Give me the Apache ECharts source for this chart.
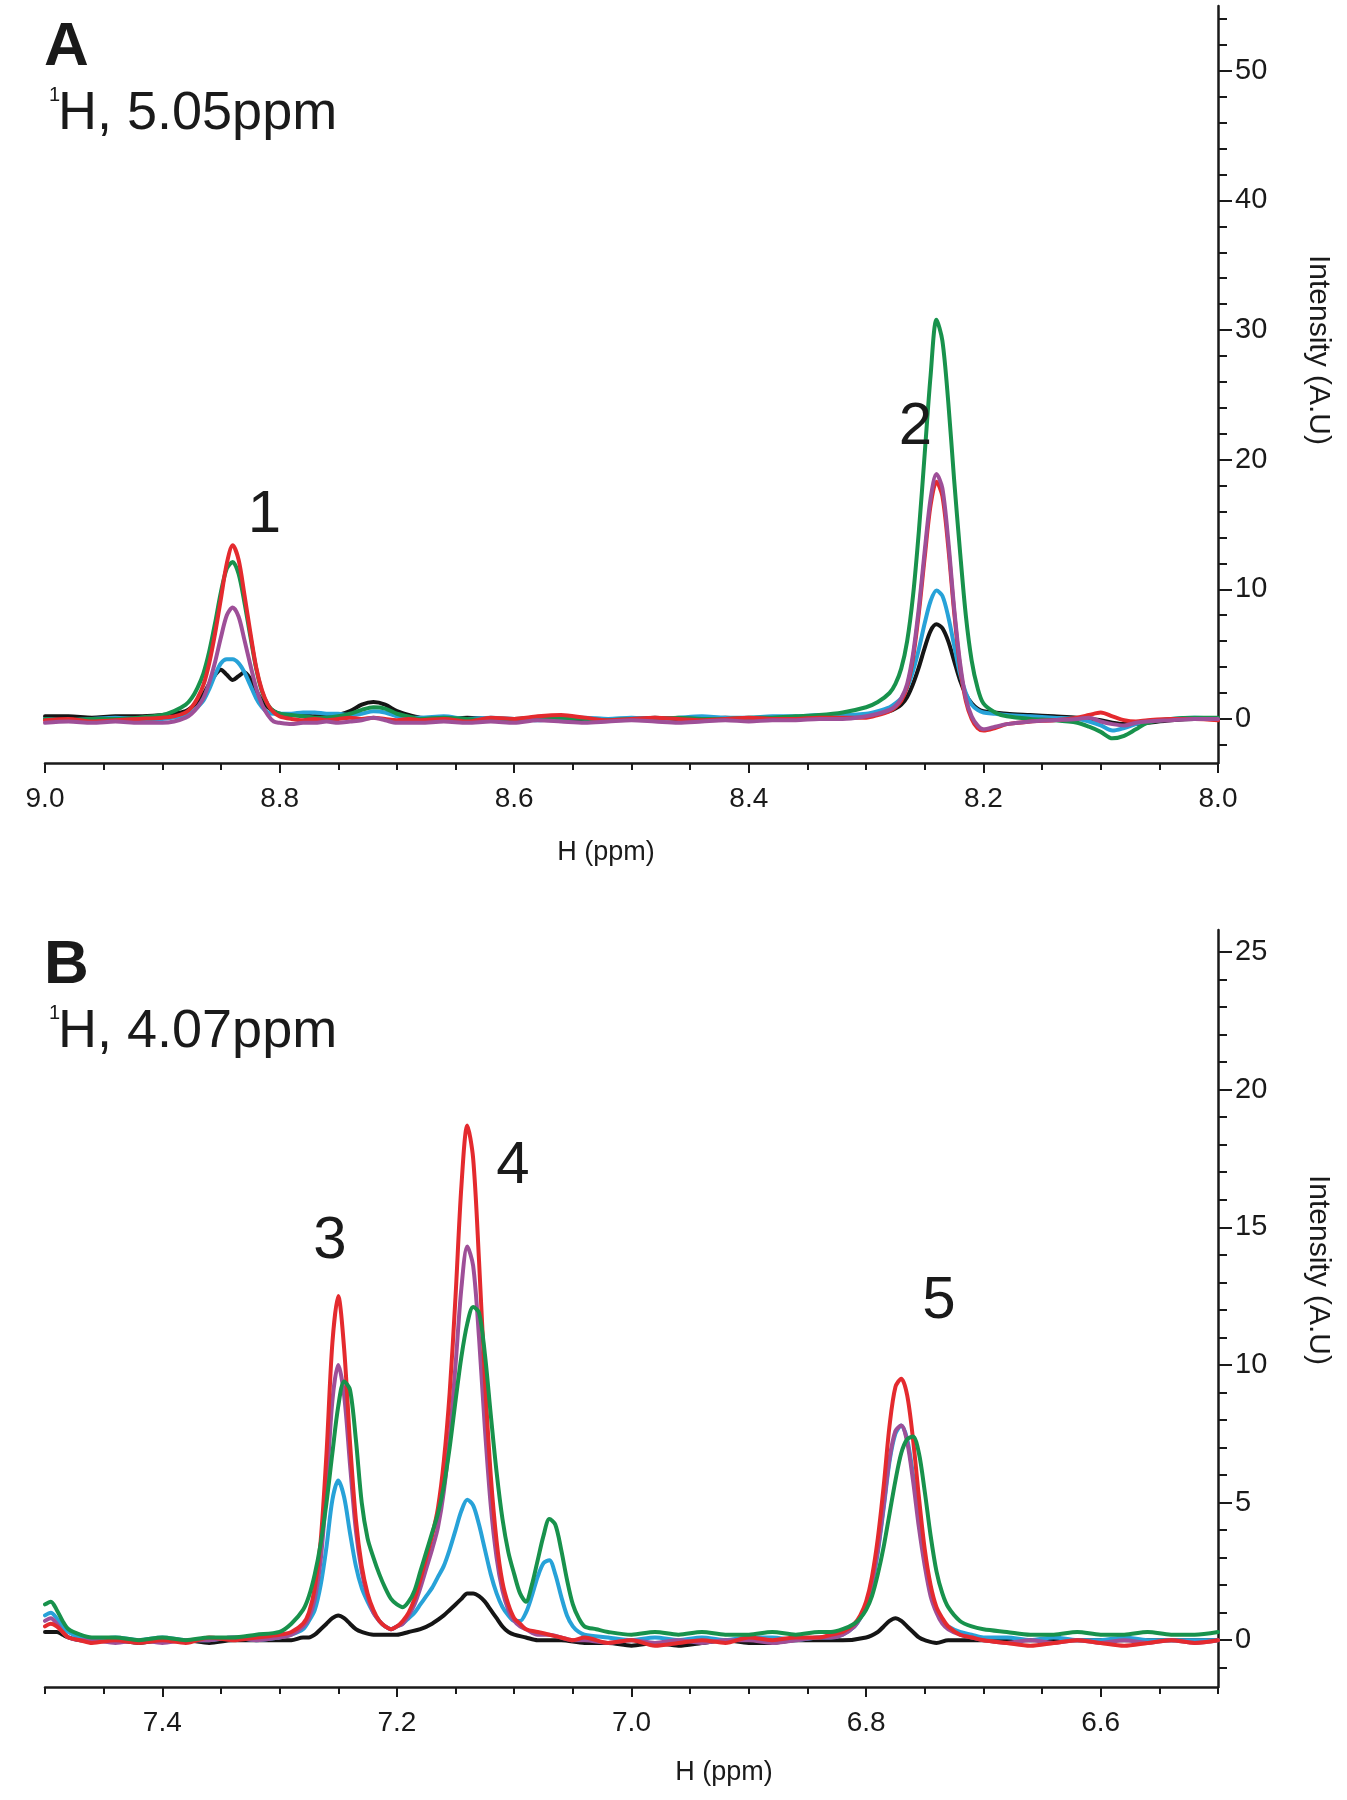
<!DOCTYPE html>
<html>
<head>
<meta charset="utf-8">
<script src="https://cdn.jsdelivr.net/npm/echarts@6/dist/echarts.min.js"></script>
<style>
html,body{margin:0;padding:0;background:#fff;}
#chart{width:1347px;height:1800px;}
</style>
</head>
<body>
<div id="chart"></div>
<script>
// ---------- Panel A data (1H, 5.05 ppm) : [ppm, intensity] ----------
const blackA = [[9.00,0.2],[8.98,0.2],[8.96,0.1],[8.94,0.2],[8.92,0.2],[8.90,0.3],[8.89,0.4],[8.88,0.6],[8.875,0.9],[8.87,1.3],[8.865,1.9],[8.86,2.7],[8.855,3.4],[8.85,3.8],[8.845,3.4],[8.84,3.0],[8.835,3.3],[8.83,3.6],[8.825,3.1],[8.82,2.2],[8.815,1.4],[8.81,0.9],[8.805,0.6],[8.80,0.4],[8.79,0.3],[8.78,0.3],[8.77,0.2],[8.76,0.2],[8.75,0.3],[8.74,0.6],[8.73,1.1],[8.72,1.3],[8.71,1.1],[8.70,0.6],[8.69,0.3],[8.68,0.1],[8.66,0.0],[8.64,0.1],[8.62,0.0],[8.60,0.0],[8.58,0.1],[8.56,0.0],[8.54,-0.1],[8.52,0.0],[8.50,0.0],[8.48,0.1],[8.46,0.0],[8.44,0.0],[8.42,0.1],[8.40,0.0],[8.38,0.1],[8.36,0.1],[8.34,0.2],[8.32,0.2],[8.30,0.2],[8.29,0.4],[8.28,0.6],[8.275,0.8],[8.27,1.1],[8.265,1.7],[8.26,2.7],[8.255,4.0],[8.25,5.5],[8.245,6.8],[8.24,7.3],[8.235,7.0],[8.23,6.0],[8.225,4.5],[8.22,3.0],[8.215,1.9],[8.21,1.2],[8.205,0.8],[8.20,0.6],[8.19,0.5],[8.18,0.4],[8.16,0.3],[8.14,0.2],[8.12,0.1],[8.11,0.0],[8.10,-0.1],[8.09,-0.3],[8.08,-0.4],[8.07,-0.4],[8.06,-0.3],[8.04,-0.1],[8.02,0.0],[8.00,0.0]];
const cyanA = [[9.00,0.0],[8.98,-0.1],[8.96,0.0],[8.94,0.1],[8.92,0.0],[8.90,0.0],[8.89,0.1],[8.88,0.3],[8.875,0.5],[8.87,0.9],[8.865,1.4],[8.86,2.3],[8.855,3.4],[8.85,4.3],[8.845,4.6],[8.84,4.6],[8.835,4.3],[8.83,3.6],[8.825,2.6],[8.82,1.6],[8.815,0.9],[8.81,0.5],[8.805,0.4],[8.80,0.4],[8.79,0.4],[8.78,0.5],[8.77,0.5],[8.76,0.4],[8.75,0.4],[8.74,0.3],[8.73,0.4],[8.72,0.6],[8.71,0.5],[8.70,0.2],[8.69,0.1],[8.68,0.1],[8.66,0.2],[8.64,0.0],[8.62,0.1],[8.60,0.0],[8.58,-0.1],[8.56,0.0],[8.54,0.1],[8.52,0.0],[8.50,0.1],[8.48,0.0],[8.46,0.1],[8.44,0.2],[8.42,0.1],[8.40,0.1],[8.38,0.2],[8.36,0.2],[8.34,0.3],[8.32,0.3],[8.30,0.4],[8.29,0.6],[8.28,0.9],[8.275,1.2],[8.27,1.6],[8.265,2.4],[8.26,3.7],[8.255,5.4],[8.25,7.4],[8.245,9.1],[8.24,9.9],[8.235,9.5],[8.23,7.9],[8.225,5.7],[8.22,3.5],[8.215,2.0],[8.21,1.1],[8.205,0.7],[8.20,0.5],[8.19,0.4],[8.18,0.3],[8.16,0.2],[8.14,0.1],[8.12,0.0],[8.11,-0.2],[8.10,-0.5],[8.09,-0.9],[8.08,-0.7],[8.07,-0.4],[8.06,-0.2],[8.04,0.0],[8.02,0.1],[8.00,0.0]];
const purpleA = [[9.00,-0.3],[8.98,-0.2],[8.96,-0.3],[8.94,-0.2],[8.92,-0.3],[8.90,-0.3],[8.89,-0.2],[8.88,0.1],[8.875,0.4],[8.87,0.9],[8.865,1.6],[8.86,2.8],[8.855,4.4],[8.85,6.3],[8.845,8.0],[8.84,8.6],[8.835,7.9],[8.83,6.1],[8.825,4.2],[8.82,2.4],[8.815,1.1],[8.81,0.3],[8.805,-0.2],[8.80,-0.3],[8.79,-0.4],[8.78,-0.3],[8.77,-0.3],[8.76,-0.2],[8.75,-0.3],[8.74,-0.2],[8.73,-0.1],[8.72,0.1],[8.71,-0.1],[8.70,-0.3],[8.69,-0.3],[8.68,-0.3],[8.66,-0.2],[8.64,-0.3],[8.62,-0.2],[8.60,-0.3],[8.58,-0.1],[8.56,-0.2],[8.54,-0.3],[8.52,-0.2],[8.50,-0.1],[8.48,-0.2],[8.46,-0.3],[8.44,-0.2],[8.42,-0.1],[8.40,-0.2],[8.38,-0.1],[8.36,-0.1],[8.34,0.0],[8.32,0.0],[8.30,0.2],[8.29,0.4],[8.28,0.7],[8.275,1.0],[8.27,1.6],[8.265,2.7],[8.26,5.0],[8.255,8.6],[8.25,13.0],[8.245,17.0],[8.24,18.9],[8.235,17.8],[8.23,13.8],[8.225,8.6],[8.22,4.4],[8.215,1.6],[8.21,0.2],[8.205,-0.5],[8.20,-0.8],[8.19,-0.6],[8.18,-0.4],[8.16,-0.2],[8.14,-0.1],[8.12,0.0],[8.11,0.1],[8.10,-0.2],[8.09,-0.4],[8.08,-0.5],[8.07,-0.3],[8.06,-0.2],[8.04,-0.1],[8.02,0.0],[8.00,0.0]];
const redA = [[9.00,-0.1],[8.98,0.0],[8.96,-0.2],[8.94,-0.1],[8.92,0.0],[8.90,0.1],[8.89,0.2],[8.88,0.5],[8.875,0.9],[8.87,1.6],[8.865,2.6],[8.86,4.3],[8.855,6.6],[8.85,9.3],[8.845,12.0],[8.84,13.4],[8.835,12.3],[8.83,9.6],[8.825,6.7],[8.82,4.0],[8.815,2.2],[8.81,1.1],[8.805,0.5],[8.80,0.2],[8.79,0.0],[8.78,-0.1],[8.77,0.0],[8.76,-0.1],[8.75,0.0],[8.74,0.1],[8.73,0.0],[8.72,0.1],[8.71,0.0],[8.70,-0.1],[8.69,0.0],[8.68,-0.1],[8.66,0.0],[8.64,-0.2],[8.62,0.1],[8.60,0.0],[8.58,0.2],[8.56,0.3],[8.54,0.1],[8.52,-0.1],[8.50,0.0],[8.48,0.1],[8.46,0.0],[8.44,-0.1],[8.42,0.0],[8.40,0.1],[8.38,0.0],[8.36,0.0],[8.34,0.1],[8.32,0.1],[8.30,0.1],[8.29,0.3],[8.28,0.6],[8.275,0.9],[8.27,1.4],[8.265,2.5],[8.26,4.7],[8.255,8.2],[8.25,12.5],[8.245,16.5],[8.24,18.3],[8.235,17.2],[8.23,13.3],[8.225,8.3],[8.22,4.1],[8.215,1.4],[8.21,0.0],[8.205,-0.7],[8.20,-0.9],[8.19,-0.7],[8.18,-0.4],[8.16,-0.2],[8.14,-0.1],[8.12,0.1],[8.11,0.3],[8.10,0.5],[8.09,0.2],[8.08,-0.1],[8.07,-0.2],[8.06,-0.1],[8.04,0.0],[8.02,0.0],[8.00,-0.1]];
const greenA = [[9.00,0.0],[8.98,-0.1],[8.96,0.0],[8.94,0.0],[8.92,0.1],[8.90,0.3],[8.89,0.6],[8.88,1.1],[8.875,1.6],[8.87,2.4],[8.865,3.5],[8.86,5.2],[8.855,7.4],[8.85,9.8],[8.845,11.6],[8.84,12.1],[8.835,11.2],[8.83,9.0],[8.825,6.4],[8.82,3.9],[8.815,2.1],[8.81,1.1],[8.805,0.6],[8.80,0.4],[8.79,0.3],[8.78,0.2],[8.77,0.1],[8.76,0.1],[8.75,0.2],[8.74,0.4],[8.73,0.7],[8.72,0.9],[8.71,0.8],[8.70,0.4],[8.69,0.2],[8.68,0.0],[8.66,0.1],[8.64,0.0],[8.62,-0.1],[8.60,0.0],[8.58,0.0],[8.56,0.1],[8.54,0.0],[8.52,-0.1],[8.50,0.0],[8.48,0.0],[8.46,0.1],[8.44,0.0],[8.42,0.0],[8.40,0.1],[8.38,0.1],[8.36,0.2],[8.34,0.3],[8.32,0.5],[8.30,0.9],[8.29,1.3],[8.28,2.0],[8.275,2.7],[8.27,3.9],[8.265,6.0],[8.26,9.5],[8.255,14.5],[8.25,20.5],[8.245,26.5],[8.24,30.8],[8.235,29.2],[8.23,24.5],[8.225,18.5],[8.22,13.0],[8.215,8.0],[8.21,4.5],[8.205,2.4],[8.20,1.2],[8.19,0.5],[8.18,0.2],[8.16,0.0],[8.14,-0.1],[8.12,-0.3],[8.11,-0.6],[8.10,-1.0],[8.09,-1.5],[8.08,-1.3],[8.07,-0.8],[8.06,-0.3],[8.04,0.0],[8.02,0.1],[8.00,0.1]];

// ---------- Panel B data (1H, 4.07 ppm) ----------
const blackB = [[7.50,0.3],[7.495,0.3],[7.49,0.3],[7.485,0.2],[7.48,0.1],[7.47,0.0],[7.46,0.0],[7.44,0.0],[7.42,-0.1],[7.40,0.0],[7.38,0.0],[7.36,-0.1],[7.34,0.0],[7.32,0.0],[7.30,0.0],[7.29,0.0],[7.28,0.1],[7.275,0.1],[7.27,0.2],[7.265,0.4],[7.26,0.6],[7.255,0.8],[7.25,0.9],[7.245,0.8],[7.24,0.6],[7.235,0.4],[7.23,0.3],[7.22,0.2],[7.21,0.2],[7.20,0.2],[7.19,0.3],[7.18,0.4],[7.17,0.6],[7.16,0.9],[7.155,1.1],[7.15,1.3],[7.145,1.5],[7.14,1.7],[7.135,1.7],[7.13,1.6],[7.125,1.4],[7.12,1.1],[7.115,0.8],[7.11,0.5],[7.105,0.3],[7.10,0.2],[7.09,0.1],[7.08,0.0],[7.06,0.0],[7.04,-0.1],[7.02,-0.1],[7.00,-0.2],[6.98,-0.1],[6.96,-0.2],[6.94,-0.1],[6.92,0.0],[6.90,-0.1],[6.88,-0.1],[6.86,0.0],[6.84,0.0],[6.82,0.0],[6.80,0.1],[6.79,0.3],[6.785,0.5],[6.78,0.7],[6.775,0.8],[6.77,0.7],[6.765,0.5],[6.76,0.3],[6.755,0.1],[6.75,0.0],[6.74,-0.1],[6.73,0.0],[6.72,0.0],[6.70,0.0],[6.68,0.0],[6.66,0.0],[6.64,0.0],[6.62,0.0],[6.60,0.0],[6.58,0.0],[6.56,0.0],[6.54,0.0],[6.52,0.0],[6.50,0.0]];
const cyanB = [[7.50,0.9],[7.495,1.0],[7.49,0.8],[7.485,0.5],[7.48,0.3],[7.47,0.1],[7.46,0.0],[7.44,0.1],[7.42,0.0],[7.40,0.1],[7.38,0.0],[7.36,0.0],[7.34,0.1],[7.32,0.0],[7.30,0.1],[7.29,0.2],[7.28,0.4],[7.275,0.7],[7.27,1.1],[7.265,2.0],[7.26,3.4],[7.255,5.1],[7.25,5.8],[7.245,5.2],[7.24,3.9],[7.235,2.7],[7.23,1.9],[7.225,1.4],[7.22,1.0],[7.215,0.7],[7.21,0.5],[7.205,0.4],[7.20,0.5],[7.195,0.6],[7.19,0.8],[7.185,1.0],[7.18,1.3],[7.175,1.6],[7.17,1.9],[7.165,2.3],[7.16,2.7],[7.155,3.3],[7.15,4.0],[7.145,4.7],[7.14,5.1],[7.135,4.9],[7.13,4.2],[7.125,3.3],[7.12,2.4],[7.115,1.7],[7.11,1.2],[7.105,0.9],[7.10,0.7],[7.095,0.7],[7.09,1.0],[7.085,1.6],[7.08,2.3],[7.075,2.8],[7.07,2.9],[7.065,2.4],[7.06,1.6],[7.055,0.9],[7.05,0.5],[7.045,0.3],[7.04,0.2],[7.02,0.1],[7.00,0.0],[6.98,0.1],[6.96,0.0],[6.94,0.1],[6.92,0.0],[6.90,0.1],[6.88,0.1],[6.86,0.0],[6.84,0.1],[6.83,0.1],[6.82,0.2],[6.81,0.5],[6.805,0.8],[6.80,1.2],[6.795,2.0],[6.79,3.2],[6.785,4.8],[6.78,6.5],[6.775,7.5],[6.77,7.8],[6.765,7.3],[6.76,6.0],[6.755,4.4],[6.75,2.9],[6.745,1.8],[6.74,1.1],[6.735,0.7],[6.73,0.5],[6.72,0.3],[6.71,0.2],[6.70,0.1],[6.68,0.1],[6.66,0.0],[6.64,0.1],[6.62,0.0],[6.60,0.0],[6.58,0.1],[6.56,0.0],[6.54,0.0],[6.52,0.0],[6.50,0.0]];
const purpleB = [[7.50,0.7],[7.495,0.8],[7.49,0.6],[7.485,0.3],[7.48,0.1],[7.47,0.0],[7.46,0.0],[7.44,-0.1],[7.42,0.0],[7.40,-0.1],[7.38,0.0],[7.36,0.0],[7.34,0.1],[7.32,0.0],[7.30,0.1],[7.29,0.2],[7.28,0.5],[7.275,0.8],[7.27,1.5],[7.265,2.9],[7.26,5.5],[7.255,8.7],[7.25,10.0],[7.245,8.9],[7.24,6.4],[7.235,4.0],[7.23,2.5],[7.225,1.6],[7.22,1.0],[7.215,0.7],[7.21,0.5],[7.205,0.4],[7.20,0.5],[7.195,0.6],[7.19,0.9],[7.185,1.3],[7.18,1.9],[7.175,2.6],[7.17,3.3],[7.165,4.1],[7.16,5.4],[7.155,7.4],[7.15,10.0],[7.145,12.8],[7.14,14.3],[7.135,13.6],[7.13,11.0],[7.125,7.7],[7.12,4.9],[7.115,3.0],[7.11,1.8],[7.105,1.1],[7.10,0.7],[7.095,0.5],[7.09,0.4],[7.08,0.2],[7.07,0.2],[7.06,0.1],[7.05,0.0],[7.04,0.0],[7.02,-0.1],[7.00,0.0],[6.98,-0.1],[6.96,0.0],[6.94,-0.1],[6.92,0.0],[6.90,0.0],[6.88,-0.1],[6.86,0.0],[6.84,0.1],[6.83,0.1],[6.82,0.2],[6.81,0.5],[6.805,0.8],[6.80,1.3],[6.795,2.1],[6.79,3.3],[6.785,4.9],[6.78,6.6],[6.775,7.6],[6.77,7.8],[6.765,7.2],[6.76,5.8],[6.755,4.1],[6.75,2.7],[6.745,1.6],[6.74,1.0],[6.735,0.6],[6.73,0.4],[6.72,0.2],[6.71,0.1],[6.70,0.0],[6.68,-0.1],[6.66,0.0],[6.64,-0.1],[6.62,0.0],[6.60,-0.1],[6.58,0.0],[6.56,-0.1],[6.54,0.0],[6.52,-0.1],[6.50,0.0]];
const redB = [[7.50,0.5],[7.495,0.6],[7.49,0.5],[7.485,0.3],[7.48,0.1],[7.47,0.0],[7.46,-0.1],[7.44,0.0],[7.42,-0.1],[7.40,0.0],[7.38,-0.1],[7.36,0.1],[7.34,0.0],[7.32,0.1],[7.30,0.2],[7.29,0.3],[7.28,0.6],[7.275,1.0],[7.27,1.9],[7.265,3.6],[7.26,6.8],[7.255,10.8],[7.25,12.5],[7.245,10.6],[7.24,7.2],[7.235,4.4],[7.23,2.7],[7.225,1.7],[7.22,1.1],[7.215,0.7],[7.21,0.5],[7.205,0.4],[7.20,0.5],[7.195,0.7],[7.19,1.0],[7.185,1.5],[7.18,2.2],[7.175,3.0],[7.17,3.8],[7.165,4.8],[7.16,6.5],[7.155,9.0],[7.15,12.5],[7.145,16.5],[7.14,18.7],[7.135,17.5],[7.13,13.8],[7.125,9.5],[7.12,6.0],[7.115,3.6],[7.11,2.1],[7.105,1.3],[7.10,0.8],[7.095,0.6],[7.09,0.4],[7.08,0.3],[7.07,0.2],[7.06,0.1],[7.05,0.0],[7.04,0.1],[7.02,-0.1],[7.00,0.0],[6.98,-0.2],[6.96,-0.1],[6.94,0.0],[6.92,-0.1],[6.90,0.1],[6.88,0.0],[6.86,0.1],[6.84,0.1],[6.83,0.2],[6.82,0.3],[6.81,0.6],[6.805,0.9],[6.80,1.4],[6.795,2.3],[6.79,3.7],[6.785,5.6],[6.78,7.8],[6.775,9.2],[6.77,9.5],[6.765,8.9],[6.76,7.3],[6.755,5.2],[6.75,3.3],[6.745,2.0],[6.74,1.2],[6.735,0.8],[6.73,0.5],[6.72,0.2],[6.71,0.1],[6.70,0.0],[6.68,-0.1],[6.66,-0.2],[6.64,-0.1],[6.62,0.0],[6.60,-0.1],[6.58,-0.2],[6.56,-0.1],[6.54,0.0],[6.52,-0.1],[6.50,0.0]];
const greenB = [[7.50,1.3],[7.495,1.4],[7.49,1.1],[7.485,0.7],[7.48,0.4],[7.47,0.2],[7.46,0.1],[7.44,0.1],[7.42,0.0],[7.40,0.1],[7.38,0.0],[7.36,0.1],[7.34,0.1],[7.32,0.2],[7.30,0.3],[7.29,0.6],[7.28,1.1],[7.275,1.6],[7.27,2.4],[7.265,3.5],[7.26,5.0],[7.255,6.8],[7.25,8.5],[7.245,9.4],[7.24,9.1],[7.235,7.3],[7.23,5.0],[7.225,3.7],[7.22,3.0],[7.215,2.4],[7.21,1.9],[7.205,1.5],[7.20,1.3],[7.195,1.2],[7.19,1.4],[7.185,1.8],[7.18,2.5],[7.175,3.2],[7.17,3.9],[7.165,4.6],[7.16,5.6],[7.155,7.0],[7.15,8.7],[7.145,10.3],[7.14,11.5],[7.135,12.1],[7.13,11.9],[7.125,10.4],[7.12,8.2],[7.115,6.1],[7.11,4.4],[7.105,3.2],[7.10,2.4],[7.095,1.7],[7.09,1.4],[7.085,2.0],[7.08,2.9],[7.075,3.8],[7.07,4.4],[7.065,4.2],[7.06,3.3],[7.055,2.2],[7.05,1.3],[7.045,0.8],[7.04,0.5],[7.03,0.4],[7.02,0.3],[7.00,0.2],[6.98,0.3],[6.96,0.2],[6.94,0.3],[6.92,0.2],[6.90,0.2],[6.88,0.3],[6.86,0.2],[6.84,0.3],[6.83,0.3],[6.82,0.4],[6.81,0.6],[6.805,0.8],[6.80,1.1],[6.795,1.6],[6.79,2.4],[6.785,3.4],[6.78,4.6],[6.775,5.8],[6.77,6.8],[6.765,7.3],[6.76,7.4],[6.755,6.8],[6.75,5.4],[6.745,3.8],[6.74,2.5],[6.735,1.7],[6.73,1.2],[6.72,0.7],[6.71,0.5],[6.70,0.4],[6.68,0.3],[6.66,0.2],[6.64,0.2],[6.62,0.3],[6.60,0.2],[6.58,0.2],[6.56,0.3],[6.54,0.2],[6.52,0.2],[6.50,0.3]];

// ---------- peak number labels [ppm, intensity, text] ----------
const peakLabelsA = [[8.813, 15.7, '1'], [8.258, 22.5, '2']];
const peakLabelsB = [[7.257, 14.5, '3'], [7.101, 17.2, '4'], [6.738, 12.3, '5']];

// ---------- ticks ----------
const xMajorA = [8.0, 8.2, 8.4, 8.6, 8.8, 9.0];
const xMinorA = [8.05,8.1,8.15,8.25,8.3,8.35,8.45,8.5,8.55,8.65,8.7,8.75,8.85,8.9,8.95];
const yMajorA = [0, 10, 20, 30, 40, 50];
const yMinorA = [-2,2,4,6,8,12,14,16,18,22,24,26,28,32,34,36,38,42,44,46,48,52,54];
const xMajorB = [6.6, 6.8, 7.0, 7.2, 7.4];
const xMinorB = [6.5,6.55,6.65,6.7,6.75,6.85,6.9,6.95,7.05,7.1,7.15,7.25,7.3,7.35,7.45,7.5];
const yMajorB = [0, 5, 10, 15, 20, 25];
const yMinorB = [-1,1,2,3,4,6,7,8,9,11,12,13,14,16,17,18,19,21,22,23,24];

const colors = { black:'#151515', cyan:'#27a2d8', purple:'#9e4f98', red:'#e42a2e', green:'#18924c' };
const FONT = '"Liberation Sans", Arial, Helvetica, sans-serif';
const INK = '#1a1a1a';

const chart = echarts.init(document.getElementById('chart'), null, {renderer:'canvas'});

function xAxes(gridIndex, min, max, major, minor) {
  return [
    { gridIndex, type:'value', min, max, inverse:true, position:'bottom',
      axisLine:{show:true, onZero:false, lineStyle:{color:INK, width:2.5}},
      axisTick:{show:true, inside:false, length:10, customValues:major, lineStyle:{color:INK, width:2}},
      axisLabel:{show:true, customValues:major, formatter:v=>Number(v).toFixed(1), margin:22, fontSize:28, color:INK, fontFamily:FONT},
      splitLine:{show:false} },
    { gridIndex, type:'value', min, max, inverse:true, position:'bottom',
      axisLine:{show:false, onZero:false},
      axisTick:{show:true, inside:false, length:7, customValues:minor, lineStyle:{color:INK, width:2}},
      axisLabel:{show:false}, splitLine:{show:false} }
  ];
}
function yAxes(gridIndex, min, max, major, minor) {
  return [
    { gridIndex, type:'value', min, max, position:'right',
      axisLine:{show:true, onZero:false, lineStyle:{color:INK, width:2.5}},
      axisTick:{show:true, inside:false, length:14, customValues:major, lineStyle:{color:INK, width:2}},
      axisLabel:{show:true, customValues:major, margin:17, fontSize:29, color:INK, fontFamily:FONT},
      splitLine:{show:false} },
    { gridIndex, type:'value', min, max, position:'right',
      axisLine:{show:false, onZero:false},
      axisTick:{show:true, inside:false, length:9, customValues:minor, lineStyle:{color:INK, width:2}},
      axisLabel:{show:false}, splitLine:{show:false} }
  ];
}

function spec(data, color, xi, yi, z) {
  return { type:'line', data, xAxisIndex:xi, yAxisIndex:yi, showSymbol:false, symbol:'none',
    smooth:0.3, z, lineStyle:{color, width:4, cap:'round', join:'round'}, silent:true };
}
function labels(data, xi, yi) {
  return { type:'scatter', data, xAxisIndex:xi, yAxisIndex:yi, symbolSize:1, z:20, silent:true,
    itemStyle:{color:'rgba(0,0,0,0)', opacity:1},
    label:{show:true, position:'inside', formatter:p=>p.value[2], fontSize:60, color:INK, opacity:1, fontFamily:FONT} };
}

const option = {
  animation:false,
  backgroundColor:'#ffffff',
  grid:[
    {left:45, top:6, width:1173, height:757},
    {left:45, top:930, width:1173, height:757}
  ],
  xAxis:[...xAxes(0, 8.0, 9.0, xMajorA, xMinorA), ...xAxes(1, 6.5, 7.5, xMajorB, xMinorB)],
  yAxis:[...yAxes(0, -3.4, 55, yMajorA, yMinorA), ...yAxes(1, -1.7, 25.8, yMajorB, yMinorB)],
  series:[
    spec(blackA, colors.black, 0, 0, 2),
    spec(cyanA, colors.cyan, 0, 0, 3),
    spec(greenA, colors.green, 0, 0, 4),
    spec(redA, colors.red, 0, 0, 5),
    spec(purpleA, colors.purple, 0, 0, 6),
    labels(peakLabelsA, 0, 0),
    spec(blackB, colors.black, 2, 2, 2),
    spec(cyanB, colors.cyan, 2, 2, 3),
    spec(purpleB, colors.purple, 2, 2, 4),
    spec(redB, colors.red, 2, 2, 5),
    spec(greenB, colors.green, 2, 2, 6),
    labels(peakLabelsB, 2, 2)
  ],
  graphic:[
    {type:'text', x:44, y:48, style:{text:'A', font:'bold 62px '+FONT, fill:INK, verticalAlign:'middle'}},
    {type:'text', x:49, y:95, style:{text:'1', font:'20px '+FONT, fill:INK, verticalAlign:'middle'}},
    {type:'text', x:58, y:114, style:{text:'H, 5.05ppm', font:'54px '+FONT, fill:INK, verticalAlign:'middle'}},
    {type:'text', x:44, y:966, style:{text:'B', font:'bold 62px '+FONT, fill:INK, verticalAlign:'middle'}},
    {type:'text', x:49, y:1013, style:{text:'1', font:'20px '+FONT, fill:INK, verticalAlign:'middle'}},
    {type:'text', x:58, y:1032, style:{text:'H, 4.07ppm', font:'54px '+FONT, fill:INK, verticalAlign:'middle'}},
    {type:'text', x:606, y:853, style:{text:'H (ppm)', font:'27px '+FONT, fill:INK, align:'center', verticalAlign:'middle'}},
    {type:'text', x:724, y:1773, style:{text:'H (ppm)', font:'27px '+FONT, fill:INK, align:'center', verticalAlign:'middle'}},
    {type:'text', x:1318, y:350, rotation:-Math.PI/2, style:{text:'Intensity (A.U)', font:'30px '+FONT, fill:INK, align:'center', verticalAlign:'middle'}},
    {type:'text', x:1318, y:1270, rotation:-Math.PI/2, style:{text:'Intensity (A.U)', font:'30px '+FONT, fill:INK, align:'center', verticalAlign:'middle'}}
  ]
};
chart.setOption(option);
</script>
</body>
</html>
